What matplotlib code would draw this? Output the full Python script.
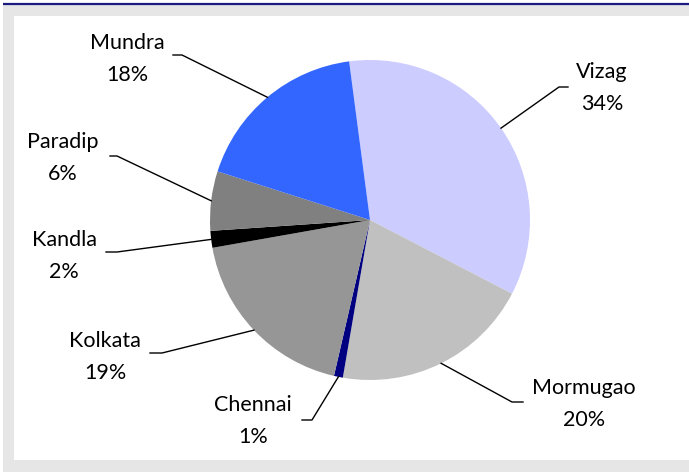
import numpy as np
import matplotlib
matplotlib.use("Agg")
import matplotlib.pyplot as plt
from matplotlib.patches import Rectangle

# ---- data ----
ports = ["Vizag", "Mormugao", "Chennai", "Kolkata", "Kandla", "Paradip", "Mundra"]
shares = [34.7, 20.1, 0.9, 18.6, 1.7, 6.0, 18.0]
pct_labels = ["34%", "20%", "1%", "19%", "2%", "6%", "18%"]
colors = ["#CCCCFF", "#C0C0C0", "#000080", "#969696", "#000000", "#808080", "#3366FF"]

# ---- layout (pixel positions, y measured from top) ----
W, H = 689, 472
center_px = (370, 220)
radius_px = 160
label_pos = {
    "Vizag": (602, 72),
    "Mormugao": (584, 388),
    "Chennai": (253, 405),
    "Kolkata": (105, 341),
    "Kandla": (64, 240),
    "Paradip": (63, 142),
    "Mundra": (127, 43),
}
elbows = {
    "Vizag": ((568, 87), (559, 87)),
    "Mormugao": ((523, 402), (512, 402)),
    "Chennai": ((302, 420), (312, 420)),
    "Kolkata": ((150, 353), (162, 353)),
    "Kandla": ((106, 252), (117, 252)),
    "Paradip": ((110, 156), (117, 156)),
    "Mundra": ((173, 55), (182, 55)),
}
line_gap = 32

plt.rcParams['font.family'] = ['Lato', 'DejaVu Sans']

fig = plt.figure(figsize=(W / 100, H / 100), dpi=100)
fig.patch.set_facecolor("white")
ax = fig.add_axes([0, 0, 1, 1])

def Y(y):
    return H - y

# background frame
ax.add_patch(Rectangle((3, 0), W - 3, Y(4), facecolor="#E6E6E6", edgecolor="none", zorder=0))
ax.add_patch(Rectangle((14, Y(460)), W - 14, 460 - 16, facecolor="white", edgecolor="none", zorder=0.5))
ax.plot([3, W], [Y(3.5), Y(3.5)], color="#1A1A80", lw=1.6, zorder=1, solid_capstyle="butt")

wedges, _ = ax.pie(shares, colors=colors, startangle=97.5, counterclock=False,
                   center=(center_px[0], Y(center_px[1])), radius=radius_px,
                   frame=True, wedgeprops=dict(linewidth=0))
for w in wedges:
    w.set_zorder(2)

for w, name, pct in zip(wedges, ports, pct_labels):
    mid = np.deg2rad((w.theta1 + w.theta2) / 2)
    ax_x = center_px[0] + radius_px * np.cos(mid)
    ax_y = Y(center_px[1]) + radius_px * np.sin(mid)
    (ox, oy), (ix, iy) = elbows[name]
    ax.plot([ox, ix, ax_x], [Y(oy), Y(iy), ax_y], color="black", lw=1.0, zorder=3)
    tx, ty = label_pos[name]
    ax.text(tx, Y(ty), name, ha="center", va="center", fontsize=15.5, color="black", zorder=4)
    ax.text(tx, Y(ty + line_gap), pct, ha="center", va="center", fontsize=15.5, color="black", zorder=4)

ax.set_xlim(0, W)
ax.set_ylim(0, H)
ax.set_aspect("auto")
ax.axis("off")

fig.savefig("out.png", dpi=100, facecolor=fig.get_facecolor())
